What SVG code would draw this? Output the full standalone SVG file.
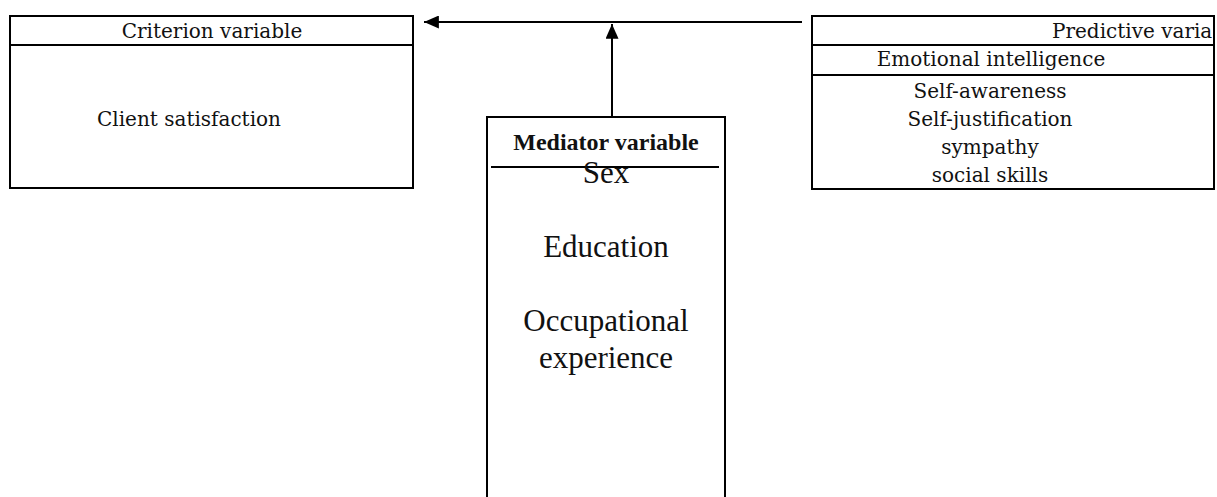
<svg xmlns="http://www.w3.org/2000/svg" width="1217" height="497" viewBox="0 0 1217 497">
<style>
.box{fill:none;stroke:#000;stroke-width:2}
.ln{stroke:#000;stroke-width:2;fill:none}
.c{font-family:"DejaVu Serif","Liberation Serif",serif;font-size:20px;fill:#111}
.t{font-family:"Liberation Serif","Times New Roman",serif;font-size:31px;fill:#111;text-anchor:middle}
.tb{font-family:"Liberation Serif","Times New Roman",serif;font-size:24px;font-weight:bold;fill:#111;text-anchor:middle}
.m{text-anchor:middle}
</style>
<defs>
<marker id="ah" viewBox="0 0 16 14" refX="16" refY="7" markerWidth="15" markerHeight="13" markerUnits="userSpaceOnUse" orient="auto">
<path d="M0,0 L16,7 L0,14 Z" fill="#000"/>
</marker>
</defs>
<g id="connectors">
<line class="ln" x1="802" y1="22" x2="424" y2="22" marker-end="url(#ah)"/>
<line class="ln" x1="612" y1="117" x2="612" y2="24" marker-end="url(#ah)"/>
</g>
<g id="criterion">
<rect class="box" x="10" y="16" width="403" height="172"/>
<line class="ln" x1="10" y1="45" x2="413" y2="45"/>
<text class="c m" x="212" y="38">Criterion variable</text>
<text class="c" x="97" y="126">Client satisfaction</text>
</g>
<g id="predictive">
<rect class="box" x="812" y="16" width="402" height="173"/>
<line class="ln" x1="812" y1="45" x2="1214" y2="45"/>
<line class="ln" x1="812" y1="75" x2="1214" y2="75"/>
<text class="c" x="1052" y="38">Predictive varia</text>
<text class="c m" x="991" y="66">Emotional intelligence</text>
<text class="c m" x="990" y="98">Self-awareness</text>
<text class="c m" x="990" y="126">Self-justification</text>
<text class="c m" x="990" y="154">sympathy</text>
<text class="c m" x="990" y="182">social skills</text>
</g>
<g id="mediator">
<path class="ln" d="M487,498 V117 H725 V498"/>
<line class="ln" x1="491" y1="167" x2="719" y2="167"/>
<text class="tb" x="606" y="150">Mediator variable</text>
<text class="t" x="606" y="183">Sex</text>
<text class="t" x="606" y="257">Education</text>
<text class="t" x="606" y="331">Occupational</text>
<text class="t" x="606" y="368">experience</text>
</g>
</svg>
